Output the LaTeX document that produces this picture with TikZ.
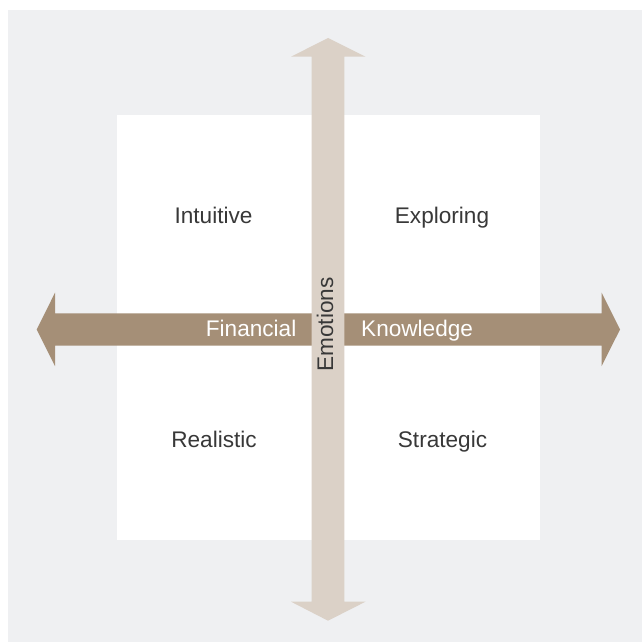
\documentclass[tikz,border=0pt]{standalone}
\usepackage{fontspec}
\setmainfont{Liberation Sans}
\begin{document}
\begin{tikzpicture}[x=1pt,y=-1pt,
  lbl/.style={font=\fontsize{22.6}{26}\selectfont, text=black!78, inner sep=0pt, anchor=base},
  wlbl/.style={font=\fontsize{22.6}{26}\selectfont, text=white, inner sep=0pt, anchor=base}]
\definecolor{bggray}{RGB}{239,240,242}
\definecolor{harrow}{RGB}{165,143,119}
\definecolor{varrow}{RGB}{219,209,199}
\useasboundingbox (0,0) rectangle (642,642);
\fill[bggray] (8,10) rectangle (642,642);
\fill[white] (117,115) rectangle (540,540);
% horizontal double arrow
\fill[harrow] (36.7,329.5) -- (55,292.7) -- (55,313.3) -- (601.7,313.3) -- (601.7,292.7)
  -- (620,329.5) -- (601.7,366) -- (601.7,345.7) -- (55,345.7) -- (55,366) -- cycle;
% vertical double arrow
\fill[varrow] (328,38) -- (365.5,56.7) -- (344.3,56.7) -- (344.3,601.7) -- (365.5,601.7)
  -- (328,620.7) -- (291,601.7) -- (311.7,601.7) -- (311.7,56.7) -- (291,56.7) -- cycle;
\node[lbl] (int) at (213.5,223.3) {Intuitive};
\node[lbl] (exp) at (442,223.3) {Exploring};
\node[lbl] (rea) at (214,447.7) {Realistic};
\node[lbl] (str) at (442.5,447.7) {Strategic};
\node[wlbl, anchor=base east] (fin) at (296.5,336.7) {Financial};
\node[wlbl, anchor=base west] (kno) at (361,336.7) {Knowledge};
\node[lbl, rotate=90] (emo) at (333,324.5) {Emotions};
\end{tikzpicture}
\end{document}
